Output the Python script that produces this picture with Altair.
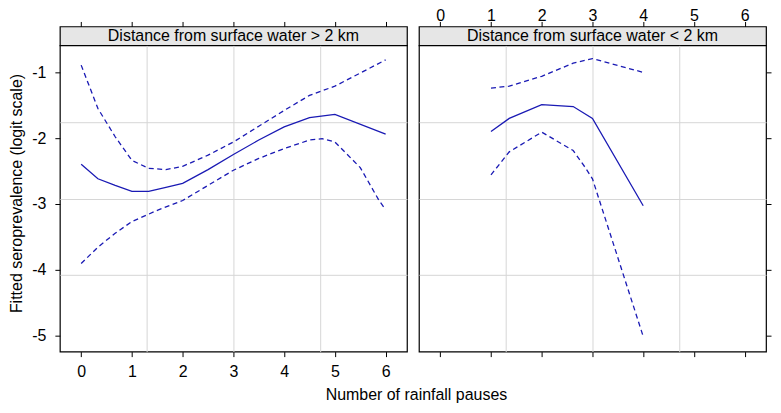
import altair as alt
import pandas as pd

# ---- axis ranges / ticks ----
x_domain = [-0.42, 6.42]
y_domain = [-5.25, -0.59]
x_ticks = [0, 1, 2, 3, 4, 5, 6]
y_ticks = [-1, -2, -3, -4, -5]

panel_titles = ["Distance from surface water > 2 km", "Distance from surface water < 2 km"]

# ---- panel 1: > 2 km ----
far_fit_x = [0, 0.33, 0.67, 1.0, 1.33, 1.67, 2.0, 2.5, 3.0, 3.5, 4.0, 4.5, 5.0, 6.0]
far_fit_y = [-2.40, -2.62, -2.72, -2.81, -2.81, -2.75, -2.69, -2.48, -2.25, -2.03, -1.83, -1.69, -1.64, -1.94]
far_upper_x = [0, 0.33, 0.67, 1.0, 1.33, 1.67, 2.0, 2.5, 3.0, 3.5, 4.0, 4.5, 5.0, 6.0]
far_upper_y = [-0.89, -1.55, -1.98, -2.34, -2.46, -2.48, -2.43, -2.26, -2.06, -1.82, -1.58, -1.35, -1.21, -0.81]
far_lower_x = [0, 0.33, 0.67, 1.0, 1.5, 2.0, 2.5, 3.0, 3.5, 4.0, 4.5, 4.75, 5.0, 5.5, 5.87, 6.0]
far_lower_y = [-3.91, -3.66, -3.45, -3.27, -3.10, -2.95, -2.72, -2.49, -2.31, -2.16, -2.03, -2.01, -2.06, -2.45, -2.95, -3.09]

# ---- panel 2: < 2 km ----
near_fit_x = [1.0, 1.36, 2.0, 2.62, 3.0, 4.0]
near_fit_y = [-1.90, -1.70, -1.49, -1.52, -1.70, -3.03]
near_upper_x = [1.0, 1.36, 2.0, 2.62, 3.0, 4.0]
near_upper_y = [-1.24, -1.21, -1.06, -0.86, -0.79, -1.00]
near_lower_x = [1.0, 1.36, 2.0, 2.62, 2.85, 3.0, 4.0]
near_lower_y = [-2.56, -2.21, -1.91, -2.19, -2.44, -2.62, -5.02]

LINE_COLOR = "#1a1ab4"
FONT = "Liberation Sans"
PANEL_W = 348
STRIP_H = 19
PLOT_H = 307

x_grid = [x_domain[0] + (x_domain[1] - x_domain[0]) * k / 4 for k in (1, 2, 3)]
y_grid = [y_domain[0] + (y_domain[1] - y_domain[0]) * k / 4 for k in (1, 2, 3)]

xs = alt.Scale(domain=x_domain, nice=False, zero=False)
ys = alt.Scale(domain=y_domain, nice=False, zero=False)


def frame(fx, fy, ux, uy, lx, ly):
    rows = []
    for a, b in zip(fx, fy):
        rows.append({"x": a, "y": b, "s": "fit"})
    for a, b in zip(ux, uy):
        rows.append({"x": a, "y": b, "s": "upper"})
    for a, b in zip(lx, ly):
        rows.append({"x": a, "y": b, "s": "lower"})
    return pd.DataFrame(rows)


def strip(title, show_labels):
    df = pd.DataFrame({"label": [title], "xc": [(x_domain[0] + x_domain[1]) / 2]})
    return alt.Chart(df).mark_text(fontSize=16, font=FONT, color="black", baseline="middle").encode(
        x=alt.X("xc:Q", scale=xs,
                axis=alt.Axis(orient="top", values=x_ticks, tickSize=5, labels=show_labels,
                              labelPadding=1, labelBaseline="alphabetic", labelFontSize=16,
                              labelFlush=False, grid=False, domain=False, title=None,
                              labelExpr="'' + datum.value")),
        y=alt.value(10),
        text="label:N",
    ).properties(width=PANEL_W, height=STRIP_H,
                 view=alt.ViewBackground(fill="#e6e6e6", stroke="black", strokeWidth=1.2))


def panel(df, left):
    base = alt.Chart(df)
    if left:
        x_axis = alt.Axis(orient="bottom", values=x_ticks, tickSize=5, labelPadding=7,
                          labelFontSize=16, labelFlush=False, grid=False, domain=False,
                          title="Number of rainfall pauses", titleFontSize=16,
                          titleFontWeight="normal", titleX=357, titleY=35,
                          labelExpr="'' + datum.value")
        y_axis = alt.Axis(orient="left", values=y_ticks, tickSize=5, labelPadding=9,
                          labelFontSize=16, grid=False, domain=False,
                          title="Fitted seroprevalence (logit scale)", titleFontSize=16,
                          titleFontWeight="normal", titleX=-35, titleY=148,
                          labelExpr="'' + datum.value")
        gy_orient = "right"
    else:
        x_axis = alt.Axis(orient="bottom", values=x_ticks, tickSize=5, labels=False,
                          grid=False, domain=False, title=None)
        y_axis = alt.Axis(orient="right", values=y_ticks, tickSize=5, labels=False,
                          grid=False, domain=False, title=None)
        gy_orient = "left"
    gx_axis = alt.Axis(orient="top", values=x_grid, grid=True, ticks=False, labels=False,
                       domain=False, title=None, gridColor="#d6d6d6", gridWidth=1)
    gy_axis = alt.Axis(orient=gy_orient, values=y_grid, grid=True, ticks=False, labels=False,
                       domain=False, title=None, gridColor="#d6d6d6", gridWidth=1)

    fit = base.transform_filter(alt.datum.s == "fit").mark_line(
        color=LINE_COLOR, strokeWidth=1.3).encode(
        x=alt.X("x:Q", scale=xs, axis=x_axis),
        y=alt.Y("y:Q", scale=ys, axis=y_axis),
    )
    bands = base.transform_filter(alt.datum.s != "fit").mark_line(
        color=LINE_COLOR, strokeWidth=1.3, strokeDash=[5, 3.5]).encode(
        x=alt.X("x:Q", scale=xs, axis=gx_axis),
        y=alt.Y("y:Q", scale=ys, axis=gy_axis),
        detail="s:N",
    )
    return alt.layer(bands, fit).resolve_axis(x="independent", y="independent").properties(
        width=PANEL_W, height=PLOT_H,
        view=alt.ViewBackground(fill="white", stroke="black", strokeWidth=1.2))


far_df = frame(far_fit_x, far_fit_y, far_upper_x, far_upper_y, far_lower_x, far_lower_y)
near_df = frame(near_fit_x, near_fit_y, near_upper_x, near_upper_y, near_lower_x, near_lower_y)

chart = alt.concat(
    strip(panel_titles[0], False), strip(panel_titles[1], True),
    panel(far_df, True), panel(near_df, False),
    columns=2, spacing={"row": 0, "column": 12}, bounds="flush",
).properties(
    padding={"left": 0, "top": -2, "right": 0, "bottom": 0},
    background="white",
).configure(font=FONT).configure_axis(
    tickColor="black", tickWidth=1, labelColor="black", titleColor="black",
    labelFont=FONT, titleFont=FONT,
)

chart.save("out.html", embed_options={"renderer": "svg", "actions": False})
